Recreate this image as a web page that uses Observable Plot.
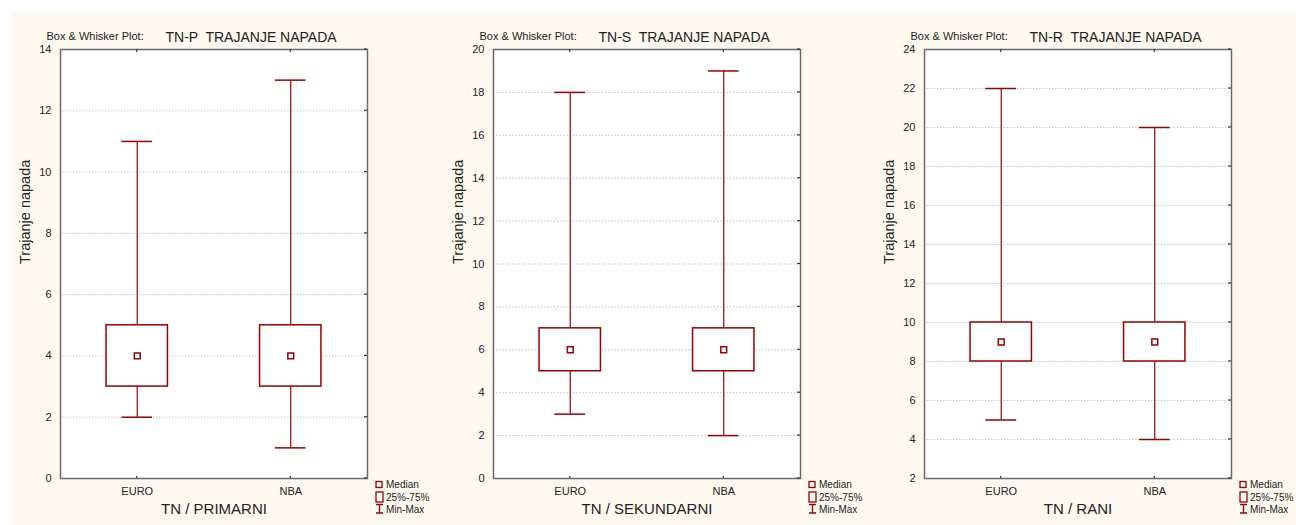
<!DOCTYPE html>
<html>
<head>
<meta charset="utf-8">
<script src="https://cdn.jsdelivr.net/npm/d3@7"></script>
<script src="https://cdn.jsdelivr.net/npm/@observablehq/plot@0.6"></script>
<style>
  html, body { margin: 0; padding: 0; background: #ffffff; }
  #page { position: relative; width: 1296px; height: 525px; overflow: hidden; }
  #bg { position: absolute; left: 10px; top: 12px; right: 0; bottom: 0; background: #fdf9ef; }
  .panel { position: absolute; top: 0; }
</style>
</head>
<body>
<div id="page"><div id="bg"></div></div>
<script>
// ---- data ----
const categories = ["EURO", "NBA"];

const titles = ["TN-P  TRAJANJE NAPADA", "TN-S  TRAJANJE NAPADA", "TN-R  TRAJANJE NAPADA"];
const xLabels = ["TN / PRIMARNI", "TN / SEKUNDARNI", "TN / RANI"];
const yLabel = "Trajanje napada";
const yDomains = [[0, 14], [0, 20], [2, 24]];
const tickStep = 2;

// per panel, per category [EURO, NBA]
const minP = [2, 1],  q1P = [3, 3], medP = [4, 4], q3P = [5, 5],   maxP = [11, 13];
const minS = [3, 2],  q1S = [5, 5], medS = [6, 6], q3S = [7, 7],   maxS = [18, 19];
const minR = [5, 4],  q1R = [8, 8], medR = [9, 9], q3R = [10, 10], maxR = [22, 20];

const legendLabels = ["Median", "25%-75%", "Min-Max"];

const stats = [
  [minP, q1P, medP, q3P, maxP],
  [minS, q1S, medS, q3S, maxS],
  [minR, q1R, medR, q3R, maxR]
];

const RED = "#990000";
const FONT = "'Liberation Sans', Arial, Helvetica, sans-serif";
const W = 432, H = 525, ML = 60, MR = 65, MT = 49, MB = 47;
const lefts = [0, 433, 864];

function makePanel(p) {
  const [mn, q1, md, q3, mx] = stats[p];
  const rows = categories.map((c, i) => ({cat: c, i, min: mn[i], q1: q1[i], med: md[i], q3: q3[i], max: mx[i]}));
  const dom = yDomains[p];
  const ticks = d3.range(dom[0], dom[1] + 0.001, tickStep);
  const chart = Plot.plot({
    width: W, height: H,
    marginLeft: ML, marginRight: MR, marginTop: MT, marginBottom: MB,
    style: {background: "transparent", fontFamily: FONT, fontSize: "11px", color: "#222", overflow: "visible"},
    x: {domain: [-0.5, categories.length - 0.5], axis: null},
    y: {domain: dom, axis: null},
    marks: [
      Plot.frame({fill: "white", stroke: null}),
      Plot.gridY(ticks, {stroke: "#b8b8b8", strokeOpacity: 1, strokeDasharray: "1.2,2"}),
      Plot.ruleX(rows, {x: "i", y1: "min", y2: "q1", stroke: RED, strokeWidth: 1.2}),
      Plot.ruleX(rows, {x: "i", y1: "q3", y2: "max", stroke: RED, strokeWidth: 1.2}),
      Plot.ruleY(rows, {y: "min", x1: d => d.i - 0.1, x2: d => d.i + 0.1, stroke: RED, strokeWidth: 1.5}),
      Plot.ruleY(rows, {y: "max", x1: d => d.i - 0.1, x2: d => d.i + 0.1, stroke: RED, strokeWidth: 1.5}),
      Plot.rect(rows, {x1: d => d.i - 0.2, x2: d => d.i + 0.2, y1: "q1", y2: "q3", fill: "white", stroke: RED, strokeWidth: 1.5}),
      Plot.dot(rows, {x: "i", y: "med", symbol: "square", r: 3.3, stroke: RED, strokeWidth: 1.5, fill: "white"}),
      Plot.frame({stroke: "#6a6a6a", strokeWidth: 1.5}),
      Plot.axisY(ticks, {tickSize: 0, tickPadding: 9, line: true, stroke: "#111", strokeWidth: 1.5, fontSize: 11, fill: "#222", label: null}),
      Plot.axisX(rows.map(d => d.i), {tickSize: 0, tickPadding: 9, line: true, stroke: "#111", strokeWidth: 1.5, fontSize: 11, fill: "#222", tickFormat: i => categories[i], label: null}),
      Plot.text([xLabels[p]], {frameAnchor: "bottom", dy: 35, fontSize: 15, fill: "#222"}),
      Plot.text([yLabel], {frameAnchor: "left", dx: -35, rotate: -90, fontSize: 14.5, fill: "#222"}),
      Plot.text(["Box & Whisker Plot:"], {frameAnchor: "top-left", dx: -14, dy: -17, textAnchor: "start", fontSize: 11, fill: "#222"}),
      Plot.text([titles[p]], {frameAnchor: "top-left", dx: 105, dy: -17, textAnchor: "start", fontSize: 14, fill: "#222"})
    ]
  });
  const svg = d3.select(chart);
  // small inward ticks on the right, top and bottom edges
  const yS = chart.scale("y"), xS = chart.scale("x");
  const tg = svg.append("g").attr("stroke", "#333").attr("stroke-width", 1.2);
  ticks.forEach(t => {
    const y = yS.apply(t);
    tg.append("line").attr("x1", W - MR - 3).attr("x2", W - MR).attr("y1", y).attr("y2", y);
  });
  rows.forEach(d => {
    const x = xS.apply(d.i);
    tg.append("line").attr("x1", x).attr("x2", x).attr("y1", MT).attr("y2", MT + 3);
    tg.append("line").attr("x1", x).attr("x2", x).attr("y1", H - MB).attr("y2", H - MB - 2);
  });
  // legend (drawn in the right margin)
  const lx = W - MR + 9;
  const g = svg.append("g").attr("fill", "none").attr("stroke", RED).attr("stroke-width", 1.3);
  g.append("rect").attr("x", lx).attr("y", 481.5).attr("width", 6).attr("height", 6);
  g.append("rect").attr("x", lx).attr("y", 492).attr("width", 7).attr("height", 10);
  g.append("path").attr("d", `M${lx},504.5H${lx + 7}M${lx + 3.5},504.5V513M${lx},513H${lx + 7}`);
  const ys = [484.5, 497, 509];
  legendLabels.forEach((t, k) => {
    svg.append("text").attr("x", lx + 10).attr("y", ys[k]).attr("dy", "0.35em")
      .attr("text-anchor", "start")
      .attr("font-family", FONT).attr("font-size", 10).attr("fill", "#222").text(t);
  });
  chart.classList.add("panel");
  chart.style.left = lefts[p] + "px";
  document.getElementById("page").appendChild(chart);
}

[0, 1, 2].forEach(makePanel);
</script>
</body>
</html>
